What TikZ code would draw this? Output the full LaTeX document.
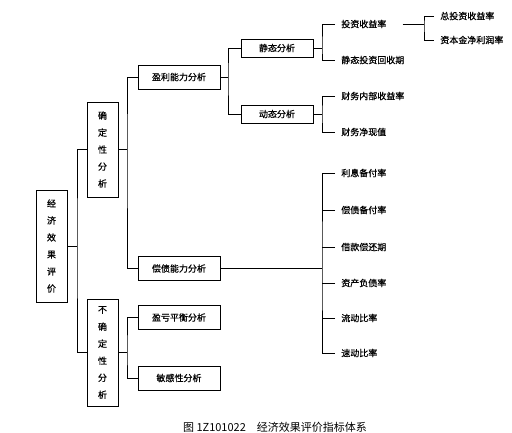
\documentclass[tikz,border=0pt]{standalone}
\usepackage{fontspec}
\setmainfont{Noto Sans CJK SC}[FakeBold=0.6]
\newfontfamily\capfont{Noto Sans CJK SC}
\usetikzlibrary{positioning}

\begin{document}
\begin{tikzpicture}[x=1pt, y=-1pt,
            vbox/.style = {draw, line width=0.8pt, minimum width=31pt, align=center, inner sep=0pt, font=\fontsize{9}{17}\selectfont},
            ibox/.style = {draw, line width=0.8pt, minimum width=82pt, minimum height=24pt, inner sep=0pt, font=\fontsize{9}{11}\selectfont},
            sbox/.style = {draw, line width=0.8pt, minimum width=72pt, minimum height=18pt, inner sep=0pt, font=\fontsize{9}{11}\selectfont},
            leaf/.style = {anchor=west, inner xsep=6pt, inner ysep=1pt, font=\fontsize{9}{11}\selectfont},
            every path/.style = {line width=0.6pt},
        ]
            \useasboundingbox (0,0) rectangle (512,433);

            % Vertical boxes on the left
            \node[vbox, minimum height=112pt] (root) at (51.5,246) {经\\济\\效\\果\\评\\价};
            \node[vbox, minimum height=95pt] (qd) at (102.5,149.5) {确\\定\\性\\分\\析};
            \node[vbox, minimum height=107pt] (bqd) at (102.5,352.5) {不\\确\\定\\性\\分\\析};

            % Second level boxes
            \node[ibox] (yl) at (179,77) {盈利能力分析};
            \node[ibox] (cz) at (179,268.5) {偿债能力分析};
            \node[ibox] (yk) at (179,317.5) {盈亏平衡分析};
            \node[ibox] (mg) at (179,378) {敏感性分析};

            % Static and dynamic analysis
            \node[sbox] (jt) at (277,48) {静态分析};
            \node[sbox] (dt) at (277,114) {动态分析};

            % Leaves
            \node[leaf] (tz) at (335,24) {投资收益率};
            \node[leaf] (hs) at (335,60) {静态投资回收期};
            \node[leaf] (nb) at (335,96) {财务内部收益率};
            \node[leaf] (jx) at (335,132) {财务净现值};
            \node[leaf] (zt) at (434,16) {总投资收益率};
            \node[leaf] (zb) at (434,40) {资本金净利润率};

            \node[leaf] (lx) at (335,173) {利息备付率};
            \node[leaf] (ch) at (335,210) {偿债备付率};
            \node[leaf] (jk) at (335,247) {借款偿还期};
            \node[leaf] (zc) at (335,283) {资产负债率};
            \node[leaf] (ld) at (335,318) {流动比率};
            \node[leaf] (sd) at (335,353) {速动比率};

            % Junctions
            \coordinate (j1) at (77,246);
            \coordinate (j2) at (127,149.5);
            \coordinate (j3) at (127,352.5);
            \coordinate (j4) at (228,77);
            \coordinate (j5) at (322,48);
            \coordinate (j6) at (322,114);
            \coordinate (j7) at (424,24);
            \coordinate (j8) at (322,268.5);

            % Connectors
            \draw (root.east) -- (j1);
            \draw (qd.west) -| (j1) |- (bqd.west);
            \draw (qd.east) -- (j2);
            \draw (yl.west) -| (j2) |- (cz.west);
            \draw (bqd.east) -- (j3);
            \draw (yk.west) -| (j3) |- (mg.west);
            \draw (yl.east) -- (j4);
            \draw (jt.west) -| (j4) |- (dt.west);
            \draw (jt.east) -- (j5);
            \draw (tz.west) -| (j5) |- (hs.west);
            \draw (dt.east) -- (j6);
            \draw (nb.west) -| (j6) |- (jx.west);
            \draw[shorten <=10pt] (tz.east) -- (j7);
            \draw (zt.west) -| (j7) |- (zb.west);
            \draw (cz.east) -- (j8);
            \draw (lx.west) -| (j8) |- (sd.west);
            \foreach \n in {ch,jk,zc,ld}
                \draw (\n.west) -- (\n.west -| j8);

            % Caption
            \node[font=\capfont\fontsize{11}{13}\selectfont] (cap) at (275,427) {图 1Z101022\quad 经济效果评价指标体系};
        \end{tikzpicture}
\end{document}
